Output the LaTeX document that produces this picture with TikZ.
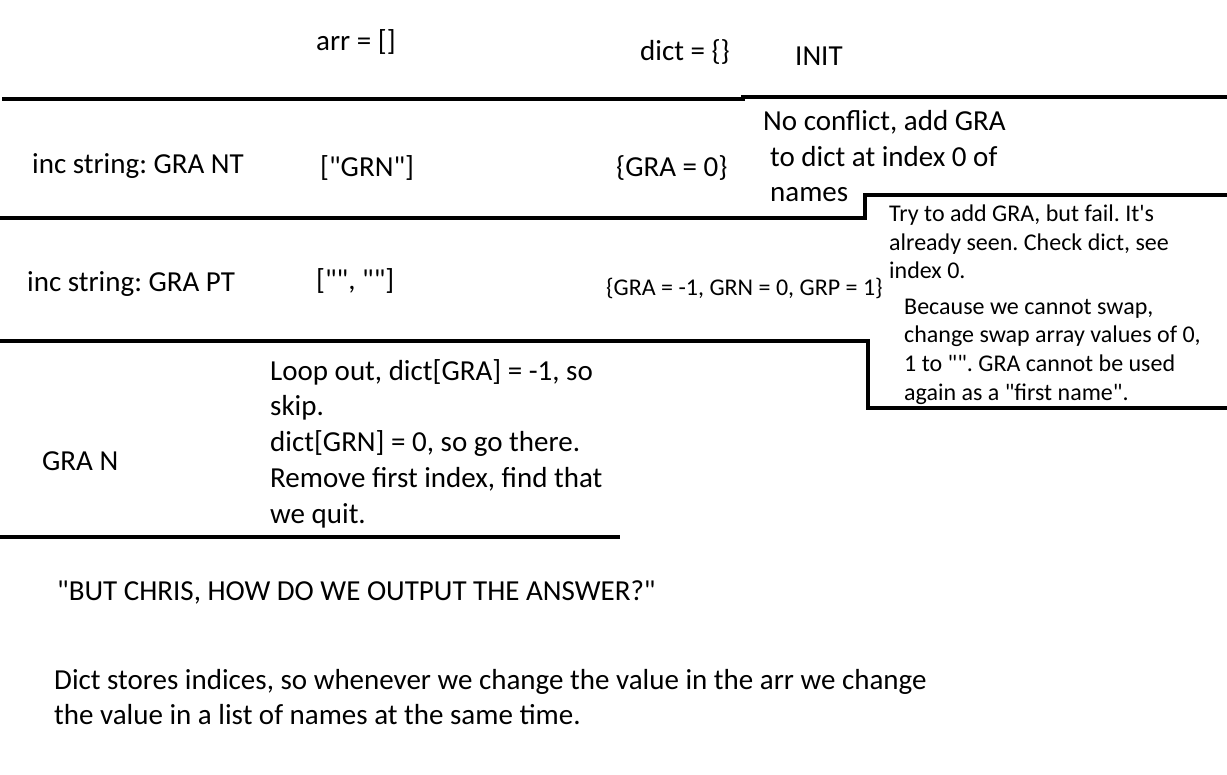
\documentclass[tikz,border=0pt]{standalone}
\usepackage{fontspec}
\setmainfont{Carlito}[Ligatures=TeXOff]
\begin{document}
\frenchspacing
\begin{tikzpicture}[x=1pt,y=-1pt,
  big/.style={anchor=base west,inner sep=0pt,font=\fontsize{29}{35}\selectfont},
  mid/.style={anchor=base west,inner sep=0pt,font=\fontsize{24}{28}\selectfont},
  small/.style={anchor=base west,inner sep=0pt,font=\fontsize{24}{26}\selectfont},
  rule/.style={line width=4pt}]
\useasboundingbox[fill=white] (0,0) rectangle (1227,775);
% rules
\coordinate (a1) at (2,99); \coordinate (a2) at (743,99); \coordinate (a3) at (743,97); \coordinate (a4) at (1227,97);
\draw[rule] (a1) -- (a2) -- (a3) -- (a4);
\coordinate (b1) at (0,218); \coordinate (b2) at (865,218); \coordinate (b3) at (865,195); \coordinate (b4) at (1227,195);
\draw[rule] (b1) -- (b2) -- (b3) -- (b4);
\coordinate (c1) at (0,341); \coordinate (c2) at (868,341); \coordinate (c3) at (868,408); \coordinate (c4) at (1227,408);
\draw[rule] (c1) -- (c2) -- (c3) -- (c4);
\coordinate (d1) at (0,537); \coordinate (d2) at (620,537);
\draw[rule] (d1) -- (d2);
% row 0
\node[big] (arr) at (316,51) {arr = []};
\node[big] (dict) at (640,61) {dict = \{\}};
\node[big] (init) at (795,66) {INIT};
% row 1
\node[big] (inc1) at (32,174) {inc string: GRA NT};
\node[big] (arr1) at (320,177) {["GRN"]};
\node[big] (dict1) at (616,177) {\{GRA = 0\}};
\node[big] (note1a) at (763,131) {No conflict, add GRA};
\node[big] (note1b) at (770,167) {to dict at index 0 of};
\node[big] (note1c) at (770,202) {names};
% row 2
\node[big] (inc2) at (27,292) {inc string: GRA PT};
\node[big] (arr2) at (316,290) {["", ""]};
\node[small] (dict2) at (606,296) {\{GRA = -1, GRN = 0, GRP = 1\}};
\node[mid] (note2a) at (889,222) {Try to add GRA, but fail. It's};
\node[mid] (note2b) at (889,251) {already seen. Check dict, see};
\node[mid] (note2c) at (889,279) {index 0.};
\node[mid] (note3a) at (904,315) {Because we cannot swap,};
\node[mid] (note3b) at (904,343) {change swap array values of 0,};
\node[mid] (note3c) at (904,372) {1 to "". GRA cannot be used};
\node[mid] (note3d) at (904,401) {again as a "first name".};
% row 3
\node[big] (gran) at (42,471) {GRA N};
\node[big] (loopa) at (270,381) {Loop out, dict[GRA] = -1, so};
\node[big] (loopb) at (270,416) {skip.};
\node[big] (loopc) at (270,452) {dict[GRN] = 0, so go there.};
\node[big] (loopd) at (270,488) {Remove first index, find that};
\node[big] (loope) at (270,524) {we quit.};
% bottom
\node[big] (but) at (57,600) {"BUT CHRIS, HOW DO WE OUTPUT THE ANSWER?"};
\node[big] (storea) at (54,689) {Dict stores indices, so whenever we change the value in the arr we change};
\node[big] (storeb) at (54,724) {the value in a list of names at the same time.};
\end{tikzpicture}
\end{document}
